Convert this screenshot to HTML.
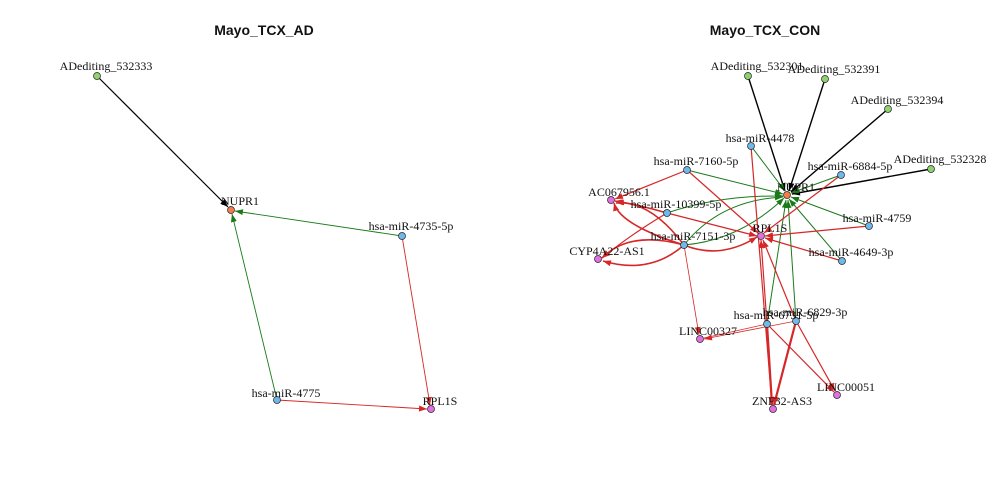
<!DOCTYPE html>
<html><head><meta charset="utf-8"><style>
html,body{margin:0;padding:0;background:#fff;width:1000px;height:500px;overflow:hidden}
svg text{font-family:"Liberation Serif",serif;font-size:12px;fill:#111}
.t{font-family:"Liberation Sans",sans-serif;font-size:14px;font-weight:bold}
</style></head><body>
<svg width="1000" height="500" viewBox="0 0 1000 500" xmlns="http://www.w3.org/2000/svg">
<defs>
<marker id="ak" markerWidth="8" markerHeight="6" refX="8" refY="3" orient="auto" markerUnits="userSpaceOnUse"><path d="M0,0L8,3L0,6z" fill="#000"/></marker>
<marker id="ag" markerWidth="8" markerHeight="6" refX="8" refY="3" orient="auto" markerUnits="userSpaceOnUse"><path d="M0,0L8,3L0,6z" fill="#1a7a1a"/></marker>
<marker id="ar" markerWidth="8" markerHeight="6" refX="8" refY="3" orient="auto" markerUnits="userSpaceOnUse"><path d="M0,0L8,3L0,6z" fill="#d62728"/></marker>
</defs>
<text class="t" x="264" y="35" text-anchor="middle">Mayo_TCX_AD</text>
<text class="t" x="765" y="35" text-anchor="middle">Mayo_TCX_CON</text>
<g fill="none" stroke-width="1.2">
<line x1="97" y1="76" x2="228" y2="207" stroke="#000" marker-end="url(#ak)"/>
<line x1="402" y1="236" x2="235" y2="211" stroke="#1a7a1a" stroke-width="0.9" marker-end="url(#ag)"/>
<line x1="277" y1="400" x2="232" y2="214" stroke="#1a7a1a" stroke-width="0.9" marker-end="url(#ag)"/>
<line x1="402" y1="236" x2="430" y2="405" stroke="#d62728" stroke-width="0.9" marker-end="url(#ar)"/>
<line x1="277" y1="400" x2="427" y2="409" stroke="#d62728" stroke-width="0.9" marker-end="url(#ar)"/>
</g>
<g fill="none" stroke="#000" stroke-width="1.4">
<line x1="748" y1="76" x2="785" y2="191" marker-end="url(#ak)"/>
<line x1="825" y1="79" x2="789" y2="191" marker-end="url(#ak)"/>
<line x1="888" y1="109" x2="791" y2="192" marker-end="url(#ak)"/>
<line x1="931" y1="169" x2="792" y2="194" marker-end="url(#ak)"/>
</g>
<g fill="none" stroke="#1a7a1a" stroke-width="1">
<line x1="751" y1="146" x2="785" y2="191" marker-end="url(#ag)"/>
<line x1="687" y1="170" x2="783" y2="194" marker-end="url(#ag)"/>
<line x1="841" y1="175" x2="791" y2="193" marker-end="url(#ag)"/>
<path d="M667,213 Q720,195 783,196" marker-end="url(#ag)"/>
<path d="M684,245 Q720,200 783,197" marker-end="url(#ag)"/>
<path d="M684,245 Q740,240 784,198" marker-end="url(#ag)"/>
<line x1="869" y1="226" x2="791" y2="197" marker-end="url(#ag)"/>
<line x1="842" y1="261" x2="789" y2="199" marker-end="url(#ag)"/>
<line x1="796" y1="321" x2="788" y2="200" marker-end="url(#ag)"/>
<line x1="767" y1="324" x2="786" y2="200" marker-end="url(#ag)"/>
</g>
<g fill="none" stroke="#d62728" stroke-width="1.2">
<line x1="687" y1="170" x2="758" y2="233" marker-end="url(#ar)"/>
<line x1="687" y1="170" x2="615" y2="199" marker-end="url(#ar)"/>
<line x1="841" y1="175" x2="764" y2="233" marker-end="url(#ar)"/>
<line x1="667" y1="213" x2="757" y2="236" marker-end="url(#ar)"/>
<line x1="869" y1="226" x2="765" y2="236" marker-end="url(#ar)"/>
<line x1="842" y1="261" x2="765" y2="238" marker-end="url(#ar)"/>
<path d="M684,245 Q720,260 757,237" stroke-width="1.6" marker-end="url(#ar)"/>
<line x1="796" y1="321" x2="763" y2="240" marker-end="url(#ar)"/>
<line x1="767" y1="324" x2="761" y2="240" marker-end="url(#ar)"/>
<line x1="751" y1="146" x2="772" y2="405" marker-end="url(#ar)"/>
<path d="M667,213 Q640,205 615,201" stroke-width="1.6" marker-end="url(#ar)"/>
<path d="M667,213 Q630,235 602,258" marker-end="url(#ar)"/>
<path d="M684,245 Q620,225 614,203" stroke-width="1.6" marker-end="url(#ar)"/>
<path d="M684,245 Q650,200 616,203" stroke-width="1.6" marker-end="url(#ar)"/>
<path d="M684,245 Q630,230 602,258" stroke-width="1.6" marker-end="url(#ar)"/>
<path d="M684,245 Q650,275 603,261" stroke-width="1.6" marker-end="url(#ar)"/>
<line x1="684" y1="245" x2="699" y2="335" stroke-width="0.8" marker-end="url(#ar)"/>
<line x1="796" y1="321" x2="704" y2="339" stroke-width="0.8" marker-end="url(#ar)"/>
<line x1="767" y1="324" x2="704" y2="338" stroke-width="0.8"/>
<line x1="767" y1="324" x2="772" y2="405" stroke-width="2.2" marker-end="url(#ar)"/>
<line x1="796" y1="321" x2="774" y2="405" stroke-width="2.2" marker-end="url(#ar)"/>
<line x1="767" y1="324" x2="834" y2="392" marker-end="url(#ar)"/>
<line x1="796" y1="321" x2="835" y2="391" marker-end="url(#ar)"/>
</g>
<g stroke="#222" stroke-width="0.7">
<circle cx="97" cy="76" r="3.5" fill="#8fd16e"/>
<circle cx="231" cy="210" r="3.5" fill="#f47c4a"/>
<circle cx="402" cy="236" r="3.5" fill="#6fb8ec"/>
<circle cx="277" cy="400" r="3.5" fill="#6fb8ec"/>
<circle cx="431" cy="409" r="3.5" fill="#e06fe0"/>
<circle cx="748" cy="76" r="3.5" fill="#8fd16e"/>
<circle cx="825" cy="79" r="3.5" fill="#8fd16e"/>
<circle cx="888" cy="109" r="3.5" fill="#8fd16e"/>
<circle cx="931" cy="169" r="3.5" fill="#8fd16e"/>
<circle cx="787" cy="195" r="3.5" fill="#f47c4a"/>
<circle cx="751" cy="146" r="3.5" fill="#6fb8ec"/>
<circle cx="687" cy="170" r="3.5" fill="#6fb8ec"/>
<circle cx="841" cy="175" r="3.5" fill="#6fb8ec"/>
<circle cx="611" cy="200" r="3.5" fill="#e06fe0"/>
<circle cx="667" cy="213" r="3.5" fill="#6fb8ec"/>
<circle cx="869" cy="226" r="3.5" fill="#6fb8ec"/>
<circle cx="761" cy="236" r="3.5" fill="#e06fe0"/>
<circle cx="684" cy="245" r="3.5" fill="#6fb8ec"/>
<circle cx="598" cy="259" r="3.5" fill="#e06fe0"/>
<circle cx="842" cy="261" r="3.5" fill="#6fb8ec"/>
<circle cx="796" cy="321" r="3.5" fill="#6fb8ec"/>
<circle cx="767" cy="324" r="3.5" fill="#6fb8ec"/>
<circle cx="700" cy="339" r="3.5" fill="#e06fe0"/>
<circle cx="837" cy="395" r="3.5" fill="#e06fe0"/>
<circle cx="773" cy="409" r="3.5" fill="#e06fe0"/>
</g>
<g text-anchor="middle">
<text x="106" y="70">ADediting_532333</text>
<text x="240" y="205">NUPR1</text>
<text x="411" y="230">hsa-miR-4735-5p</text>
<text x="286" y="397">hsa-miR-4775</text>
<text x="440" y="405">RPL1S</text>
<text x="757" y="70">ADediting_532301</text>
<text x="834" y="73">ADediting_532391</text>
<text x="897" y="104">ADediting_532394</text>
<text x="940" y="163">ADediting_532328</text>
<text x="796" y="191">NUPR1</text>
<text x="760" y="142">hsa-miR-4478</text>
<text x="696" y="165">hsa-miR-7160-5p</text>
<text x="850" y="170">hsa-miR-6884-5p</text>
<text x="619" y="196">AC067956.1</text>
<text x="676" y="208">hsa-miR-10399-5p</text>
<text x="877" y="222">hsa-miR-4759</text>
<text x="770" y="232">RPL1S</text>
<text x="693" y="240">hsa-miR-7151-3p</text>
<text x="607" y="255">CYP4A22-AS1</text>
<text x="851" y="256">hsa-miR-4649-3p</text>
<text x="805" y="316">hsa-miR-6829-3p</text>
<text x="776" y="319">hsa-miR-6731-5p</text>
<text x="708" y="335">LINC00327</text>
<text x="846" y="391">LINC00051</text>
<text x="782" y="405">ZNF32-AS3</text>
</g>
</svg>
</body></html>
